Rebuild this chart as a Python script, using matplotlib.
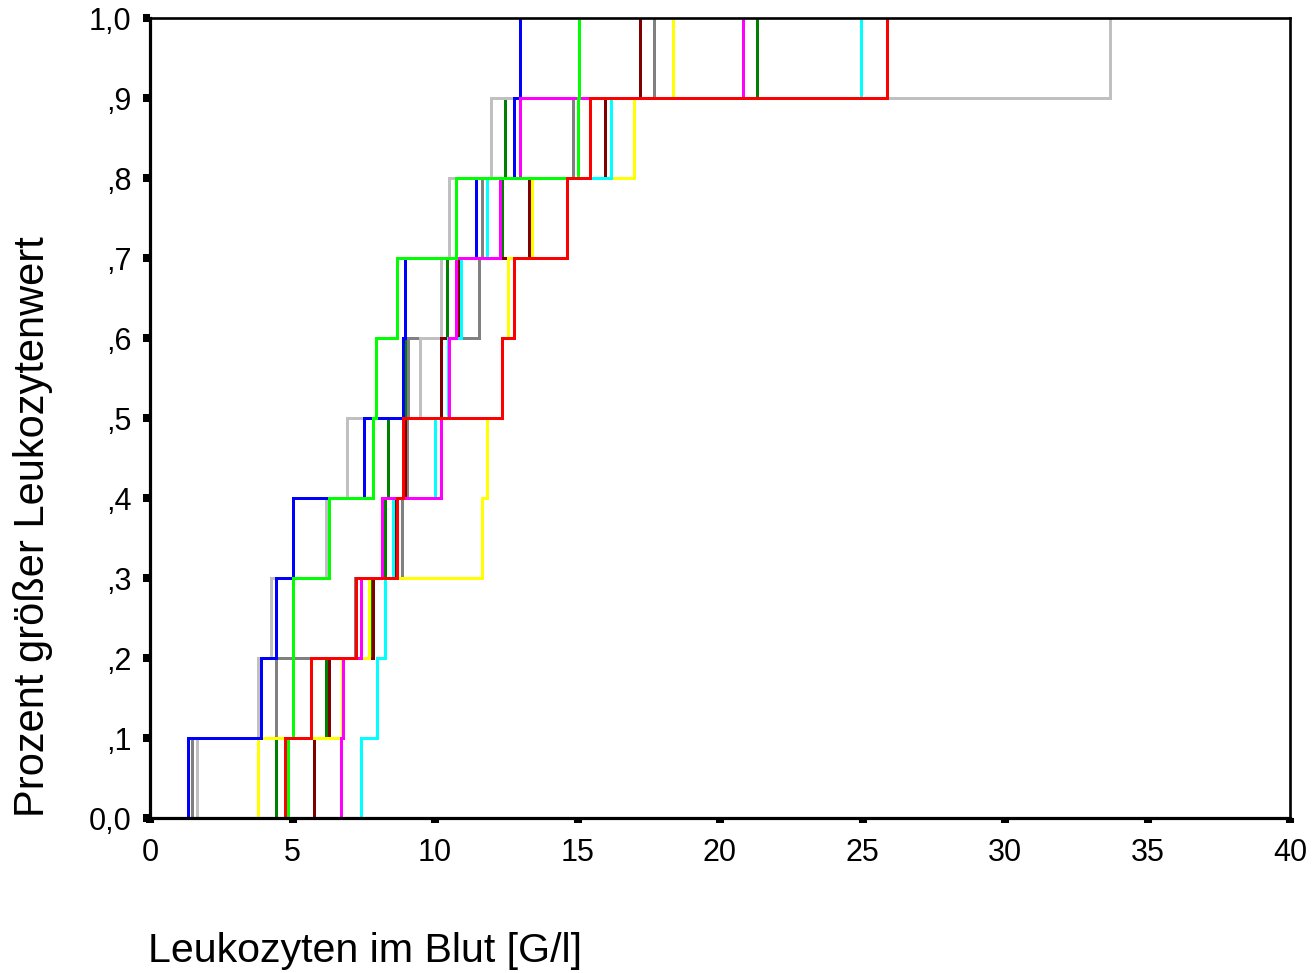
import numpy as np
import matplotlib
matplotlib.use("Agg")
import matplotlib.pyplot as plt

plt.rcParams["font.family"] = ["Liberation Sans", "DejaVu Sans"]

# leukocyte counts per group, sorted (G/l); ten patients each
dunkelgruen = [4.42, 6.19, 7.80, 8.25, 8.34, 8.95, 10.41, 12.36, 12.46, 21.30]
grau = [1.46, 4.41, 7.20, 8.85, 9.03, 9.04, 11.54, 11.64, 14.84, 17.70]
silber = [1.64, 3.80, 4.23, 6.19, 6.90, 9.47, 10.21, 10.49, 11.96, 33.70]
dunkelrot = [5.77, 6.27, 7.81, 8.60, 8.95, 10.20, 10.82, 13.30, 15.96, 17.20]
gelb = [3.80, 6.74, 7.70, 11.64, 11.83, 12.36, 12.57, 13.39, 16.98, 18.35]
cyan = [7.39, 7.95, 8.25, 8.54, 10.00, 10.45, 10.91, 11.83, 16.18, 24.95]
blau = [1.35, 3.89, 4.41, 5.03, 7.52, 8.86, 8.95, 11.43, 12.77, 12.98]
magenta = [6.69, 6.78, 7.39, 8.13, 10.21, 10.49, 10.73, 12.28, 12.98, 20.80]
hellgruen = [4.83, 5.03, 5.03, 6.27, 7.84, 7.92, 8.66, 10.73, 15.02, 15.05]
rot = [4.74, 5.65, 7.22, 8.66, 8.86, 12.36, 12.78, 14.64, 15.44, 25.86]

gruppen = [
    (dunkelgruen, "#008000"),
    (grau, "#808080"),
    (silber, "#c0c0c0"),
    (dunkelrot, "#800000"),
    (gelb, "#ffff00"),
    (cyan, "#00ffff"),
    (blau, "#0000ff"),
    (magenta, "#ff00ff"),
    (hellgruen, "#00ff00"),
    (rot, "#ff0000"),
]

y_ticks = [0.0, 0.1, 0.2, 0.3, 0.4, 0.5, 0.6, 0.7, 0.8, 0.9, 1.0]
y_ticklabels = ["0,0", ",1", ",2", ",3", ",4", ",5", ",6", ",7", ",8", ",9", "1,0"]
x_ticks = [0, 5, 10, 15, 20, 25, 30, 35, 40]

fig = plt.figure(figsize=(13.12, 9.73), dpi=100)
ax = fig.add_axes([150 / 1312, 1 - 818 / 973, 1140 / 1312, 800 / 973])

for werte, farbe in gruppen:
    werte = np.sort(np.asarray(werte))
    anteil = np.arange(1, len(werte) + 1) / len(werte)
    xs = np.concatenate([[werte[0]], werte])
    ys = np.concatenate([[0.0], anteil])
    ax.step(xs, ys, where="post", color=farbe, lw=1.9, antialiased=False)

ax.set_xlim(0, 40)
ax.set_ylim(0, 1.0)
ax.set_xticks(x_ticks)
ax.set_xticklabels([str(t) for t in x_ticks])
ax.set_yticks(y_ticks)
ax.set_yticklabels(y_ticklabels)
ax.tick_params(axis="x", length=3.6, width=5.8, direction="out", pad=10.5,
               labelsize=22, color="black")
ax.tick_params(axis="y", length=5, width=5.8, direction="out", pad=8.5,
               labelsize=22, color="black")

for side in ("left", "bottom"):
    ax.spines[side].set_linewidth(2.3)
for side in ("top", "right"):
    ax.spines[side].set_linewidth(1.9)

fig.text(33 / 1312, 1 - 527 / 973, "Prozent größer Leukozytenwert",
         rotation=90, ha="center", va="center", fontsize=30)
fig.text(148 / 1312, 1 - 951 / 973, "Leukozyten im Blut [G/l]",
         ha="left", va="center", fontsize=29.6)

fig.savefig("out.png", dpi=100)
